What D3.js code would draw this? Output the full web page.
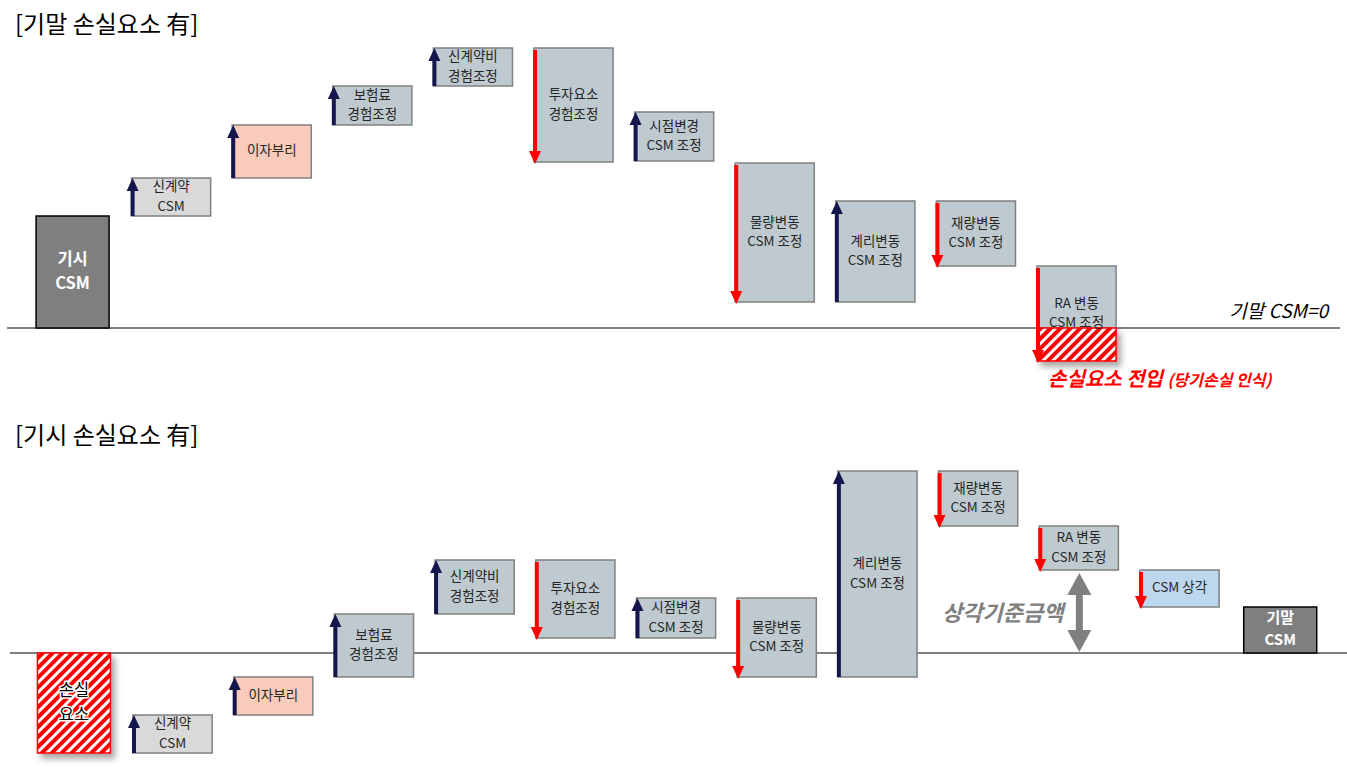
<!DOCTYPE html>
<html><head><meta charset="utf-8">
<script src="https://cdn.jsdelivr.net/npm/d3@7"></script>
<style>
html,body{margin:0;padding:0;background:#fff;}
svg{display:block;font-family:"Noto Sans CJK KR","Noto Sans",sans-serif;}
</style></head>
<body>
<svg id="chart" width="1347" height="767"></svg>
<script>
// ---------- DATA ----------
const titles = ["[기말 손실요소 有]", "[기시 손실요소 有]"];

// Panel 1: 기말 손실요소 有
const topLabels = ["기시\nCSM", "신계약\nCSM", "이자부리", "보험료\n경험조정", "신계약비\n경험조정", "투자요소\n경험조정", "시점변경\nCSM 조정", "물량변동\nCSM 조정", "계리변동\nCSM 조정", "재량변동\nCSM 조정", "RA 변동\nCSM 조정"];
const topKinds  = ["total", "newbiz", "interest", "adj", "adj", "adj", "adj", "adj", "adj", "adj", "adj"];
const topFrom   = [0, 112, 150, 203, 242, 280, 167, 165, 26, 127, 62];
const topTo     = [112, 150, 203, 242, 280, 166, 216, 26, 127, 62, -33];
const topLossPart = [false, false, false, false, false, false, false, false, false, false, true];

// Panel 2: 기시 손실요소 有
const botLabels = ["손실\n요소", "신계약\nCSM", "이자부리", "보험료\n경험조정", "신계약비\n경험조정", "투자요소\n경험조정", "시점변경\nCSM 조정", "물량변동\nCSM 조정", "계리변동\nCSM 조정", "재량변동\nCSM 조정", "RA 변동\nCSM 조정", "CSM 상각", "기말\nCSM"];
const botKinds  = ["loss", "newbiz", "interest", "adj", "adj", "adj", "adj", "adj", "adj", "adj", "adj", "amort", "total"];
const botFrom   = [0, -100, -62, -24, 39, 93, 15, 55, -24, 182, 127, 83, 0];
const botTo     = [-100, -62, -24, 39, 93, 15, 55, -24, 182, 127, 83, 46, 46];
const botLossPart = [false, false, false, false, false, false, false, false, false, false, false, false, false];

const topNote = "기말 CSM=0";
const lossNoteMain = "손실요소 전입";
const lossNoteSub = "(당기손실 인식)";
const amortBaseLabel = "상각기준금액";
const amortBaseFrom = 0, amortBaseTo = 83;

// ---------- STYLE ----------
const fills = {total:"#7f7f7f", newbiz:"#d9d9d9", interest:"#f8cbbb", adj:"#bfcad0", amort:"#bdd7ee"};
const NAVY = "#16164e", RED = "#ff0000";

const svg = d3.select("#chart");
const defs = svg.append("defs");
defs.append("pattern").attr("id","hatch").attr("patternUnits","userSpaceOnUse")
  .attr("width",7).attr("height",7).attr("patternTransform","rotate(45)")
  .call(p=>{p.append("rect").attr("width",7).attr("height",7).attr("fill","#fff");
            p.append("rect").attr("width",4).attr("height",7).attr("fill",RED);});
const f = defs.append("filter").attr("id","shadow").attr("x","-20%").attr("y","-20%").attr("width","150%").attr("height","150%");
f.append("feDropShadow").attr("dx",4).attr("dy",5).attr("stdDeviation",3).attr("flood-color","#000").attr("flood-opacity",0.35);

function panel(cfg){
  const g = svg.append("g");
  const n = cfg.labels.length;
  const x = d3.scaleBand().domain(d3.range(n)).range(cfg.xRange).paddingInner(0.214).paddingOuter(0);
  const y = d3.scaleLinear().domain(cfg.yDomain).range(cfg.yRange);
  const bw = x.bandwidth();
  const y0 = y(0);

  g.append("text").attr("x",15).attr("y",cfg.titleY).attr("font-size",24).attr("fill","#000").text(cfg.title);
  g.append("line").attr("x1",cfg.lineX[0]).attr("x2",cfg.lineX[1]).attr("y1",y0).attr("y2",y0).attr("stroke","#000").attr("stroke-width",1.2);

  const data = cfg.labels.map((l,i)=>({i,label:l,kind:cfg.kinds[i],from:cfg.from[i],to:cfg.to[i],lossPart:cfg.lossPart[i]}));
  data.forEach(d=>{
    const special = (d.kind==="total"||d.kind==="loss");
    const w = special ? 73 : bw;
    const left = d.i===0 ? x(d.i) + bw - w - 1 : x(d.i) + bw/2 - w/2;
    const top = y(Math.max(d.from,d.to)), bot = y(Math.min(d.from,d.to));
    const bg = g.append("g");
    if(d.kind==="loss"){
      bg.append("rect").attr("x",left).attr("y",top).attr("width",w).attr("height",bot-top)
        .attr("fill","url(#hatch)").attr("stroke",RED).attr("stroke-width",1.5).attr("filter","url(#shadow)");
    } else if (d.lossPart) {
      bg.append("rect").attr("x",left).attr("y",top).attr("width",w).attr("height",y0-top)
        .attr("fill",fills[d.kind]).attr("stroke","#808080").attr("stroke-width",1.5);
      bg.append("rect").attr("x",left).attr("y",y0).attr("width",w).attr("height",bot-y0)
        .attr("fill","url(#hatch)").attr("stroke",RED).attr("stroke-width",1.5).attr("filter","url(#shadow)");
    } else {
      bg.append("rect").attr("x",left).attr("y",top).attr("width",w).attr("height",bot-top)
        .attr("fill",fills[d.kind]).attr("stroke", d.kind==="total" ? "#000" : "#808080").attr("stroke-width",1.5);
    }
    const lines = d.label.split("\n");
    const isTotal = d.kind==="total", isLoss = d.kind==="loss";
    const small = isTotal && (bot-top) < 80;
    const fs = isTotal ? (small ? 15 : 16.5) : isLoss ? 16.5 : 13.5;
    const lh = isTotal ? (small ? 22 : 24) : isLoss ? 24 : 19.5;
    const cy = (top+bot)/2 - 1;
    const t = bg.append("text").attr("text-anchor","middle").attr("font-size",fs)
      .attr("font-weight", isTotal ? "bold" : "normal")
      .attr("fill", isTotal ? "#fff" : isLoss ? "#000" : "#262626");
    if(isLoss){ t.attr("stroke","#fff").attr("stroke-width",3).attr("paint-order","stroke").attr("stroke-linejoin","round"); }
    lines.forEach((ln,k)=>{
      t.append("tspan").attr("x",left+w/2).attr("y", cy + (k-(lines.length-1)/2)*lh + fs*0.36).text(ln);
    });
    if(!special){
      const ax = left + 1;
      const up = d.to > d.from;
      const col = up ? NAVY : RED;
      const hw = 6, hh = 13;
      if(up){
        const tip = y(d.to), base = y(d.from);
        bg.append("rect").attr("x",ax-2).attr("y",tip+hh-1).attr("width",4).attr("height",base-tip-hh+1).attr("fill",col);
        bg.append("path").attr("d",`M${ax-hw},${tip+hh}L${ax},${tip}L${ax+hw},${tip+hh}Z`).attr("fill",col);
      } else {
        const start = y(d.from)+2, tip = y(d.to)+2;
        bg.append("rect").attr("x",ax-2).attr("y",start).attr("width",4).attr("height",tip-hh-start+1).attr("fill",col);
        bg.append("path").attr("d",`M${ax-hw},${tip-hh}L${ax},${tip}L${ax+hw},${tip-hh}Z`).attr("fill",col);
      }
    }
  });
  return {g,x,y,bw};
}

const P1 = panel({title:titles[0], titleY:33, labels:topLabels, kinds:topKinds, from:topFrom, to:topTo, lossPart:topLossPart,
  xRange:[31,1116.1], yDomain:[0,280], yRange:[328,48], lineX:[7,1340]});
const P2 = panel({title:titles[1], titleY:444, labels:botLabels, kinds:botKinds, from:botFrom, to:botTo, lossPart:botLossPart,
  xRange:[32.3,1319.8], yDomain:[0,182], yRange:[653,471], lineX:[10,1347]});

P1.g.append("text").attr("x",1328).attr("y",318).attr("text-anchor","end").attr("font-size",19)
  .attr("font-style","italic").attr("fill","#000").text(topNote);
const ln = P1.g.append("text").attr("x",1048).attr("y",386).attr("fill",RED).attr("font-weight","bold").attr("font-style","italic");
ln.append("tspan").attr("font-size",20).text(lossNoteMain + " ");
ln.append("tspan").attr("font-size",16).text(lossNoteSub);

{
  const ax = P2.x(10) + P2.bw/2 + 0.5;
  const yt = P2.y(amortBaseTo)+3, yb = P2.y(amortBaseFrom)-1;
  const hw = 12, hh = 22;
  P2.g.append("rect").attr("x",ax-3.5).attr("y",yt+hh-1).attr("width",7).attr("height",yb-yt-2*hh+2).attr("fill","#808080");
  P2.g.append("path").attr("d",`M${ax-hw},${yt+hh}L${ax},${yt}L${ax+hw},${yt+hh}Z`).attr("fill","#808080");
  P2.g.append("path").attr("d",`M${ax-hw},${yb-hh}L${ax},${yb}L${ax+hw},${yb-hh}Z`).attr("fill","#808080");
  P2.g.append("text").attr("x",942).attr("y",621).attr("font-size",22).attr("font-weight","bold")
    .attr("font-style","italic").attr("fill","#808080").text(amortBaseLabel);
}
</script>
</body></html>
